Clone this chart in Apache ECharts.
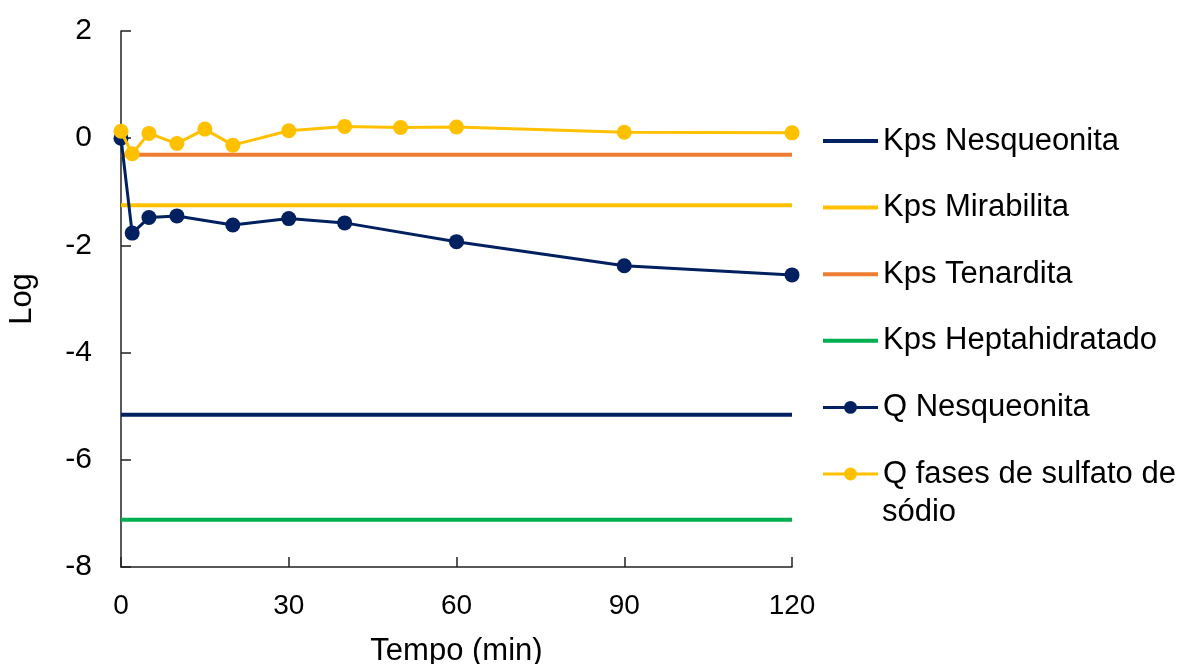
<!DOCTYPE html>
<html>
<head>
<meta charset="utf-8">
<script src="https://cdn.jsdelivr.net/npm/echarts@6/dist/echarts.min.js"></script>
<style>
  html, body { margin: 0; padding: 0; background: #fff; }
  #chart { width: 1186px; height: 664px; }
</style>
</head>
<body>
<div id="chart"></div>
<script>
// tempo (min)
const tempoNesq = [0, 2, 5, 10, 20, 30, 40, 60, 90, 120];
const qNesqueonita = [0.0, -1.77, -1.48, -1.45, -1.62, -1.50, -1.58, -1.93, -2.38, -2.55];

const tempoSulfato = [0, 2, 5, 10, 15, 20, 30, 40, 50, 60, 90, 120];
const qSulfato = [0.13, -0.29, 0.09, -0.10, 0.17, -0.13, 0.14, 0.22, 0.20, 0.21, 0.11, 0.10];

// linhas constantes de Kps
const kpsRange = [0, 120];
const kpsNames = ['Kps Nesqueonita', 'Kps Mirabilita', 'Kps Tenardita', 'Kps Heptahidratado'];
const kpsValues = [-5.16, -1.25, -0.31, -7.12];
const kpsColors = ['#002060', '#FFC000', '#ED7D31', '#00B050'];

const font = "'Liberation Sans', Arial, sans-serif";

const chart = echarts.init(document.getElementById('chart'));

const kpsSeries = kpsNames.map((name, i) => ({
  name: name,
  type: 'line',
  symbol: 'none',
  color: kpsColors[i],
  lineStyle: { width: 4, color: kpsColors[i] },
  data: kpsRange.map(x => [x, kpsValues[i]]),
  z: 2
}));

// legenda: linhas Kps sem marcador
const legendData = kpsNames.map(name => ({
  name: name,
  itemStyle: { opacity: 0, borderWidth: 0 },
  lineStyle: { width: 4 }
})).concat([
  { name: 'Q Nesqueonita', lineStyle: { width: 3 } },
  { name: 'Q fases de sulfato de sódio', lineStyle: { width: 3 } }
]);

const option = {
  animation: false,
  textStyle: { fontFamily: font },
  grid: { left: 121, right: 394, top: 31, bottom: 97, outerBoundsMode: 'none' },
  xAxis: {
    type: 'value',
    min: 0,
    max: 120,
    interval: 30,
    name: 'Tempo (min)',
    nameLocation: 'middle',
    nameGap: 69,
    nameTextStyle: { fontSize: 31, color: '#000', fontFamily: font },
    axisLine: { onZero: false, lineStyle: { color: '#222', width: 1.5 } },
    axisTick: { inside: true, length: 10, lineStyle: { color: '#222', width: 1.5 } },
    axisLabel: { fontSize: 28, color: '#000', margin: 25, fontFamily: font },
    splitLine: { show: false }
  },
  yAxis: {
    type: 'value',
    min: -8,
    max: 2,
    interval: 2,
    name: 'Log',
    nameLocation: 'middle',
    nameGap: 83,
    nameTextStyle: { fontSize: 31, color: '#000', fontFamily: font },
    axisLine: { show: true, onZero: false, lineStyle: { color: '#222', width: 1.5 } },
    axisTick: { show: true, inside: true, length: 10, lineStyle: { color: '#222', width: 1.5 } },
    axisLabel: { fontSize: 30, color: '#000', margin: 29, fontFamily: font },
    splitLine: { show: false }
  },
  legend: {
    orient: 'vertical',
    left: 816,
    top: 118,
    itemWidth: 55,
    itemHeight: 16,
    itemGap: 30.6,
    itemTextGap: 5,
    formatter: name => name === 'Q fases de sulfato de sódio' ? 'Q fases de sulfato de' : name,
    textStyle: { fontSize: 31, lineHeight: 36, color: '#000', fontFamily: font },
    data: legendData
  },
  graphic: [{
    type: 'text',
    left: 882,
    top: 497,
    style: { text: 'sódio', fontSize: 31, fill: '#000', fontFamily: font }
  }],
  series: kpsSeries.concat([
    {
      name: 'Q Nesqueonita',
      type: 'line',
      symbol: 'circle',
      symbolSize: 15,
      color: '#002060',
      lineStyle: { width: 3, color: '#002060' },
      itemStyle: { color: '#002060' },
      data: tempoNesq.map((t, i) => [t, qNesqueonita[i]]),
      z: 3
    },
    {
      name: 'Q fases de sulfato de sódio',
      type: 'line',
      symbol: 'circle',
      symbolSize: 15,
      color: '#FFC000',
      lineStyle: { width: 3, color: '#FFC000' },
      itemStyle: { color: '#FFC000' },
      data: tempoSulfato.map((t, i) => [t, qSulfato[i]]),
      z: 4
    }
  ])
};

chart.setOption(option);
</script>
</body>
</html>
